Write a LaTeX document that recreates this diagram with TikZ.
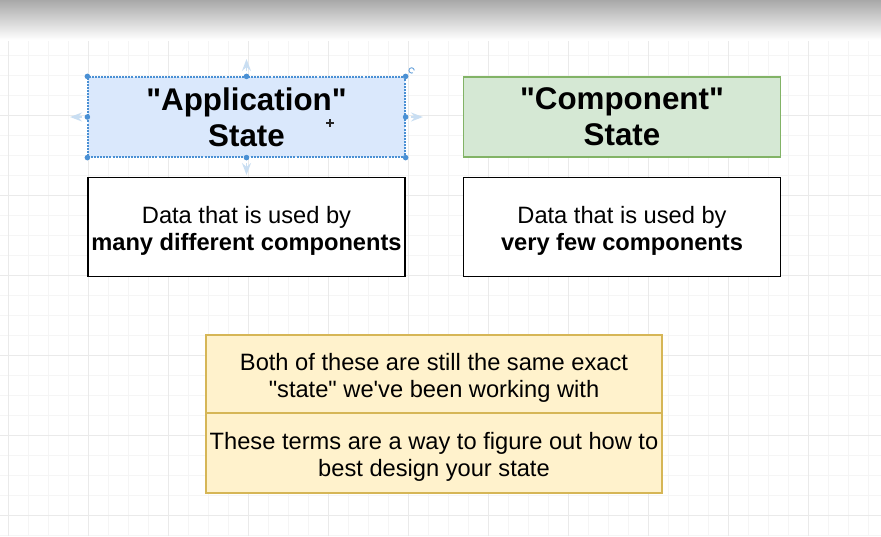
\documentclass[tikz,border=0pt]{standalone}
\usepackage{fontspec}
\setmainfont{Liberation Sans}[Ligatures=TeXOff]
\usetikzlibrary{positioning}
\usetikzlibrary{arrows.meta}
\definecolor{appblue}{HTML}{DAE8FC}
\definecolor{appline}{HTML}{6C8EBF}
\definecolor{compgreen}{HTML}{D5E8D4}
\definecolor{compline}{HTML}{82B366}
\definecolor{noteyellow}{HTML}{FFF2CC}
\definecolor{noteline}{HTML}{D6B656}
\definecolor{handle}{HTML}{4A90D4}
\definecolor{gridminor}{HTML}{F5F5F5}
\definecolor{gridmajor}{HTML}{EAEAEA}
\newcommand{\topstrut}{\rule{0pt}{19pt}}

\begin{document}
\begin{tikzpicture}[
    x=0.75pt, y=-0.75pt,
    titlebox/.style={rectangle, draw, line width=0.9pt, minimum width=237.75pt, minimum height=60pt, inner sep=0pt, align=center, font=\fontsize{23.5}{27}\selectfont\bfseries},
    descbox/.style={rectangle, draw=black, fill=white, line width=1.3pt, minimum width=237.75pt, minimum height=74.25pt, inner sep=0pt, align=center, font=\fontsize{17.75}{20.25}\selectfont},
    notebox/.style={rectangle, draw=noteline, fill=noteyellow, line width=1pt, minimum width=342pt, inner sep=0pt, outer sep=0pt, align=center, font=\fontsize{17.75}{20.25}\selectfont},
    node distance=14.25pt,
    >=Stealth
]
    \useasboundingbox (0,0) rectangle (881,536);

    % --- Canvas with grid ---
    \fill[white] (0,0) rectangle (881,536);
    \foreach \gx in {8, 28, ..., 880} {
        \draw[gridminor, line width=0.6pt] (\gx,0) -- (\gx,536);
    }
    \foreach \gy in {15, 35, ..., 535} {
        \draw[gridminor, line width=0.6pt] (0,\gy) -- (881,\gy);
    }
    \foreach \gx in {8, 88, ..., 880} {
        \draw[gridmajor, line width=0.6pt] (\gx,0) -- (\gx,536);
    }
    \foreach \gy in {35, 115, ..., 535} {
        \draw[gridmajor, line width=0.6pt] (0,\gy) -- (881,\gy);
    }
    \shade[top color=black!34, bottom color=white] (0,0) rectangle (881,40);

    % --- The two kinds of state ---
    \node[titlebox, fill=appblue, draw=handle, dash pattern=on 1.5pt off 0.8pt] (app) at (246.5,117) {"Application"\\State};
    \node[titlebox, fill=compgreen, draw=compline] (comp) at (622,117) {"Component"\\State};

    \node[descbox, below=of app] (appdesc) {\topstrut Data that is used by\\\textbf{many different components}};
    \node[descbox, below=of comp] (compdesc) {\topstrut Data that is used by\\\textbf{very few components}};

    % --- Notes ---
    \node[notebox, minimum height=58.5pt] (same) at (434,374) {\topstrut Both of these are still the same exact\\"state" we've been working with};
    \node[notebox, minimum height=60pt, below=0pt of same] (terms) {\topstrut These terms are a way to figure out how to\\best design your state};

    % --- Selection handles ---
    \foreach \a in {north west, north, north east, west, east, south west, south, south east} {
        \fill[handle] (app.\a) circle (2.1pt);
    }
    \draw[->, handle!30, line width=1.3pt] ([yshift=4pt]app.north) -- ([yshift=13pt]app.north);
    \draw[->, handle!30, line width=1.3pt] ([yshift=-4pt]app.south) -- ([yshift=-13pt]app.south);
    \draw[->, handle!30, line width=1.3pt] ([xshift=-4pt]app.west) -- ([xshift=-13pt]app.west);
    \draw[->, handle!30, line width=1.3pt] ([xshift=4pt]app.east) -- ([xshift=13pt]app.east);
    \draw[handle!80, line width=0.7pt] ([xshift=6.5pt,yshift=4.5pt]app.north east) arc (0:300:2pt);
    \draw[black!85, line width=0.9pt] (326,123) -- (334,123) (330,119) -- (330,127);
\end{tikzpicture}
\end{document}
